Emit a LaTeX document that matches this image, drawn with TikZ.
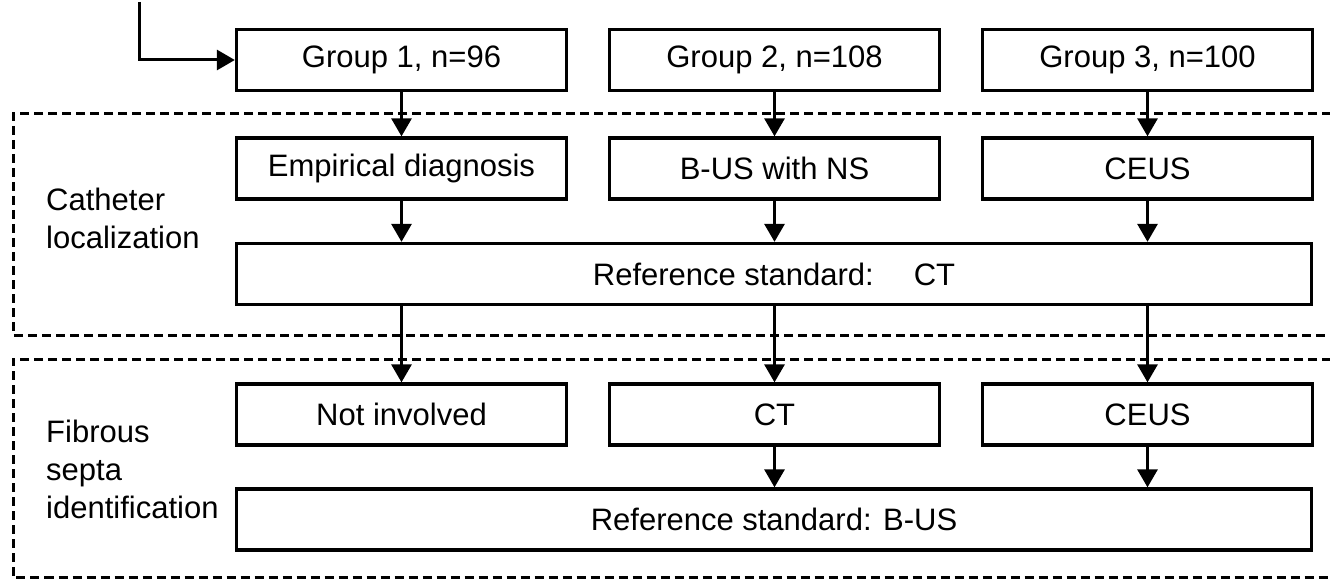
\documentclass[tikz,border=0pt]{standalone}
\usepackage{fontspec}
\setmainfont{Liberation Sans}
\usetikzlibrary{arrows.meta}
\begin{document}
\begin{tikzpicture}[x=1pt,y=-1pt,
  txt/.style={font=\fontsize{31}{38}\selectfont},
  box/.style={draw,line width=3.3pt,minimum width=330pt,minimum height=61pt,inner sep=0pt,txt},
  widebox/.style={box,minimum width=1075pt},
  arr/.style={line width=3pt,-{Triangle[width=20pt,length=18pt]}},
  region/.style={draw,line width=3pt,dash pattern=on 9pt off 5pt},
  side/.style={txt,align=left,anchor=north west,inner sep=0pt}]
\useasboundingbox (0,0) rectangle (1330,580);
% dashed regions
\draw[region] (1345,114) -- (13,114) -- (13,335) -- (1345,335);
\draw[region] (1345,359) -- (13,359) -- (13,577.5) -- (1345,577.5);
% boxes
\node[box] (g1) at (401.5,60) {Group 1, n=96};
\node[box] (g2) at (774.5,60) {Group 2, n=108};
\node[box] (g3) at (1147.5,60) {Group 3, n=100};
\node[box] (e1) at (401.5,168.5) {Empirical diagnosis};
\node[box] (e2) at (774.5,168.5) {B-US with NS};
\node[box] (e3) at (1147.5,168.5) {CEUS};
\node[widebox] (ref1) at (774,274) {Reference standard:\hspace{40pt}CT};
\node[box] (f1) at (401.5,414.5) {Not involved};
\node[box] (f2) at (774.5,414.5) {CT};
\node[box] (f3) at (1147.5,414.5) {CEUS};
\node[widebox] (ref2) at (774,519.5) {Reference standard: B-US};
% side labels
\node[side] (lab1) at (46,188) {Catheter\\localization};
\node[side] (lab2) at (46,420) {Fibrous\\septa\\identification};
% connectors
\coordinate (start) at (139,2);
\draw[arr] (start) |- (g1.west);
\draw[arr] (g1.south) -- (e1.north);
\draw[arr] (g2.south) -- (e2.north);
\draw[arr] (g3.south) -- (e3.north);
\draw[arr] (e1.south) -- (e1.south |- ref1.north);
\draw[arr] (e2.south) -- (e2.south |- ref1.north);
\draw[arr] (e3.south) -- (e3.south |- ref1.north);
\draw[arr] (ref1.south -| f1.north) -- (f1.north);
\draw[arr] (ref1.south -| f2.north) -- (f2.north);
\draw[arr] (ref1.south -| f3.north) -- (f3.north);
\draw[arr] (f2.south) -- (f2.south |- ref2.north);
\draw[arr] (f3.south) -- (f3.south |- ref2.north);
\end{tikzpicture}
\end{document}
